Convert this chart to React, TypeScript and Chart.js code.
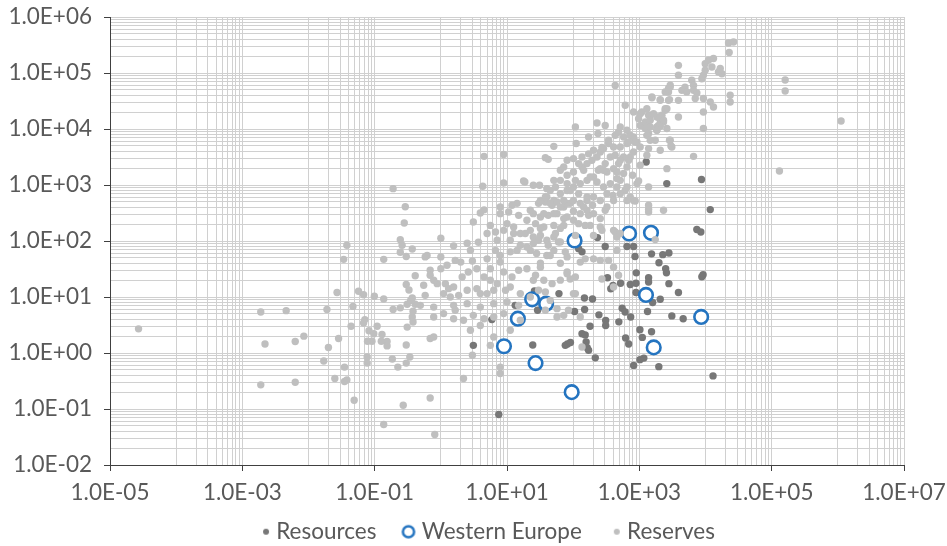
import React, { useEffect, useRef } from "react";
import { Chart, registerables } from "chart.js";

Chart.register(...registerables);

// ---- data (x, y) ----
const seriesNames = ["Resources", "Western Europe", "Reserves"];

const xMajorTicks = [1e-5, 1e-3, 1e-1, 1e1, 1e3, 1e5, 1e7];
const yMajorTicks = [1e-2, 1e-1, 1, 1e1, 1e2, 1e3, 1e4, 1e5, 1e6];

const resources: [number, number][] = [
  [233, 115], [305, 80], [136, 64], [121, 73], [650, 80], [820, 80], [860, 53], [1530, 59], [2260, 57], [2800, 61],
  [1980, 41], [2500, 32], [2570, 27], [9200, 25], [8800, 23], [1380, 22], [1380, 18.5], [900, 27], [330, 22], [400, 16],
  [370, 14], [520, 17.6], [730, 16.7], [890, 17.6], [2800, 17.3], [3900, 12], [890, 12], [61, 11.5], [148, 9.6], [196, 9.2],
  [1590, 8.0], [2070, 9.1], [26, 12.8], [29, 5.8], [105, 5.5], [149, 6.0], [245, 4.8], [310, 3.8], [310, 3.1], [490, 3.6],
  [550, 6.3], [610, 5.4], [740, 4.4], [1330, 5.5], [3100, 4.6], [4600, 4.1], [180, 3.0], [136, 2.2], [152, 2.1], [82, 1.45],
  [76, 1.37], [91, 1.54], [157, 1.58], [163, 1.24], [171, 1.12], [216, 0.82], [620, 1.85], [690, 1.45], [1020, 2.6], [1110, 1.9],
  [1530, 2.4], [1170, 0.81], [1020, 0.76], [820, 0.6], [1970, 0.57], [13000, 0.39], [24.5, 1.39], [3.1, 1.37], [7.5, 0.08], [5.9, 3.95],
  [1270, 2570], [2600, 1060], [8700, 1250], [11800, 364], [7400, 160], [8500, 145], [13.3, 7.1],
];

const westernEurope: [number, number][] = [
  [105, 102], [700, 136], [1500, 140], [24, 9.1], [39, 7.6], [14.6, 4.1], [1260, 10.9], [8600, 4.4], [9.0, 1.32], [27, 0.66],
  [1650, 1.26], [95, 0.2],
];

const reserves: [number, number][] = [
  // left part
  [2.7e-5, 2.7], [1.9e-3, 5.4], [4.6e-3, 5.7], [2.2e-3, 1.45], [6.3e-3, 1.6], [8.5e-3, 2.0], [1.9e-3, 0.27], [6.3e-3, 0.3],
  [3.8e-2, 84], [3.4e-2, 47], [2.7e-2, 12], [1.9e-2, 6.0], [4.7e-2, 6.8], [5.7e-2, 12.7], [6.8e-2, 11], [9.9e-2, 10.3],
  [0.137, 9.2], [0.137, 47], [0.244, 105], [0.26, 84], [0.244, 63], [0.3, 53], [0.37, 72], [0.41, 24], [0.3, 16.7], [0.33, 13.3],
  [0.37, 9.6], [0.31, 7.4], [0.41, 7.4], [0.244, 6.4], [0.19, 6.0], [0.38, 5.55], [0.37, 4.4], [0.38, 3.57],
  [7.1e-2, 3.95], [6.8e-2, 3.43], [4.4e-2, 3.0], [8.2e-2, 2.5], [0.109, 3.0], [9.7e-2, 2.2], [0.129, 2.14],
  [7.8e-2, 1.62], [9.1e-2, 1.62], [0.126, 1.62], [0.154, 1.6], [0.154, 1.34], [0.3, 1.39], [2.85e-2, 1.81], [2.0e-2, 1.25],
  [1.7e-2, 0.72], [3.5e-2, 0.56], [7.7e-2, 0.85], [7.7e-2, 0.66], [0.185, 0.78], [0.224, 0.56], [0.34, 0.85], [0.3, 0.66],
  [2.5e-2, 0.35], [3.5e-2, 0.31], [3.8e-2, 0.33], [4.9e-2, 0.143], [0.27, 0.117], [0.137, 0.053], [0.19, 860], [0.29, 408], [0.28, 210],
  [0.81, 0.035], [0.69, 0.157], [2.2, 0.35], [7.9, 0.56], [7.9, 0.43], [3.0, 0.91], [5.6, 1.37], [6.3, 1.93], [0.69, 1.81], [0.78, 1.93], [0.31, 2.9],
  // central part
  [4.3, 950], [8.9, 1090], [18.6, 1130], [4.5, 3250], [8.9, 3500], [14.2, 470], [11.9, 435], [3.95, 316], [4.5, 360], [3.1, 218],
  [7.9, 405], [7.9, 308], [10.6, 329], [10, 204], [12.6, 178], [8.9, 155], [25, 308], [20, 234], [15.9, 136], [18.9, 136], [22.5, 155], [25, 118],
  [5.0, 136], [6.7, 145], [7.1, 103], [1.0, 112], [1.56, 82], [2.5, 91], [3.7, 95], [0.58, 52], [1.0, 52], [2.0, 42], [3.0, 44], [5.0, 48], [7.9, 55],
  [11.2, 64], [14.2, 68], [20, 78], [25, 90], [1.24, 37], [0.69, 30], [0.55, 16.2], [0.88, 17.3], [1.31, 14.1], [1.56, 15.1], [2.1, 22.7], [2.6, 28],
  [3.5, 32], [4.5, 22.7], [5.6, 19.9], [7.1, 17.3], [8.9, 28], [11.9, 22.7], [15, 30], [20, 32], [7.9, 42], [5.6, 32], [1.1, 11.5], [1.39, 10],
  [2.5, 13.2], [3.95, 11.5], [6.3, 13.2], [11.2, 15.1], [15.9, 11.5], [25, 19.9], [22.5, 10], [0.35, 8.7], [0.49, 7.1], [0.78, 6.6], [1.56, 7.1],
  [2.5, 7.6], [3.95, 6.6], [6.3, 7.6], [10, 8.15], [15, 7.1], [0.78, 4.4], [1.1, 5.05], [1.56, 4.1], [2.2, 3.84], [3.1, 4.7], [4.5, 4.1], [6.3, 4.4], [8.9, 5.05],
  [0.69, 24.4], [0.78, 19.9], [1.17, 17.3], [1.86, 10.7], [3.5, 14.1], [5.0, 11.5], [0.62, 55],
  [12.6, 136], [32, 126], [40, 103], [51, 118], [64, 96], [40, 55], [51, 68], [76, 64], [32, 40], [64, 40], [81, 26], [108, 22.7], [36, 19.9], [48, 17.3],
  [128, 4.4], [136, 1.28], [108, 11.5], [257, 45], [408, 34], [458, 68], [203, 48], [485, 24.4], [30, 13.2], [38, 12.3], [45, 8.7], [57, 6.2], [72, 4.7],
  [57, 4.4], [85, 5.8], [101, 11.5], [22.5, 68], [28, 60], [45, 55], [81, 52], [32, 34], [27, 24.4], [81, 28], [90, 21], [128, 42], [152, 48], [343, 45],
  [272, 21], [408, 15.1], [432, 145], [458, 118], [1380, 368], [2320, 353], [1740, 106], [30, 103], [54, 136], [60, 96],
  [30, 470], [38, 497], [48, 435], [57, 497], [72, 405], [90, 470], [32, 268], [42, 287], [57, 308], [72, 251], [27, 204], [36, 178], [51, 190], [72, 190],
  [101, 234], [121, 204], [171, 287], [181, 190], [257, 251], [272, 155], [203, 126],
  [5.6, 190], [11.2, 103], [15.9, 84], [32, 168], [42, 84], [64, 168], [108, 126], [152, 190], [196, 435], [305, 353],
  [400, 650], [610, 800], [790, 1490], [1030, 2250], [690, 2760], [432, 7700], [305, 11600], [1030, 11600], [1740, 6300], [2070, 4170],
  [240, 1830], [108, 1210], [64, 1830], [45, 800], [22.5, 353], [15, 287], [6.7, 68], [2.8, 68], [1.65, 45], [1.0, 32],
  [0.58, 10.7], [1.65, 5.8], [2.8, 2.55], [3.95, 3.1], [15.9, 3.84], [11.2, 2.55], [9.5, 13.2], [38, 5.8], [64, 20],
  // upper cluster
  [31, 990], [40, 860], [54, 920], [64, 1210], [81, 1490], [101, 1710], [136, 2100], [162, 2410], [192, 2760], [229, 3160], [257, 3880], [288, 4470],
  [203, 4170], [171, 3600], [343, 5500], [408, 4770], [364, 3160], [305, 2410], [257, 1960], [324, 1710], [408, 1960], [485, 2410], [578, 3160],
  [729, 3160], [818, 3880], [515, 4770], [650, 5500], [729, 7700], [818, 7200], [920, 5860], [1030, 4770], [515, 10900], [650, 9500],
  [64, 700], [81, 800], [101, 920], [128, 1060], [162, 1210], [203, 1390], [229, 1130], [288, 920], [324, 700], [257, 530], [203, 611], [162, 530],
  [128, 470], [101, 530], [81, 470], [64, 405], [51, 530], [40, 611], [32, 530], [36, 308], [51, 308], [81, 268], [101, 339], [128, 308], [162, 353],
  [203, 308], [324, 405], [408, 530], [458, 920], [515, 1210], [578, 1600], [650, 920], [729, 611], [818, 530], [920, 1060], [257, 178], [408, 155], [515, 136],
  [432, 60000], [229, 12800], [612, 26500], [108, 10900], [51, 4900], [38, 3080], [42, 2870], [17.8, 1180], [72, 2100], [81, 2760], [101, 2960],
  [171, 7200], [237, 8300], [111, 5500], [343, 6300], [272, 4700], [485, 8840], [578, 7200], [867, 5860], [687, 5860],
  [818, 20100], [1090, 20100], [1380, 17600], [1230, 13300], [975, 15300], [1550, 37300], [2070, 32500], [2760, 45800], [2930, 60400],
  [2610, 23100], [2070, 14300], [1840, 10900], [1380, 8300], [2610, 10200], [1380, 4470], [1300, 3390], [2610, 1960],
  [432, 3390], [515, 2760], [650, 2100], [458, 1710], [288, 1830], [136, 3160], [121, 2410], [144, 1830], [181, 1390], [364, 1060], [458, 1300],
  [51, 1210], [81, 1060], [90, 800], [121, 700], [162, 611], [25, 990], [38, 611], [45, 470], [72, 530], [144, 405], [515, 700], [650, 530],
  [1300, 11600], [1230, 10200], [1300, 7700], [1460, 6300], [2860, 6300], [3000, 4970], [6600, 3250], [1380, 920], [1380, 435], [1380, 329],
  [975, 1180], [867, 518], [1030, 18800], [1460, 17600], [1300, 23100], [2070, 33500], [2860, 33500], [2460, 21600], [1950, 16400], [2320, 13300],
  [1950, 11600], [1840, 9500],
  // top right
  [22300, 343000], [26500, 357000], [22800, 232000], [3900, 137000], [3900, 91000], [9900, 147000], [11100, 169000], [13200, 181000],
  [12500, 128000], [9900, 112000], [16700, 120000], [17700, 97000], [8800, 79000], [6200, 74000], [6600, 60000], [4900, 56000], [4400, 49000],
  [5200, 46000], [6600, 49000], [7400, 44000], [7000, 35000], [2930, 56000], [2460, 46000], [2760, 32500], [1550, 36000], [3900, 32500],
  [9300, 35000], [11800, 30300], [13200, 24700], [9300, 20100], [9300, 10200], [23600, 40000], [23600, 30300], [2460, 23100], [2200, 17600],
  [1840, 16400], [1640, 18800], [1460, 14300], [2320, 14300], [2070, 11200], [1840, 9500], [3900, 16400], [1460, 10900], [2930, 6300], [3100, 4770],
  [160000, 75000], [160000, 47700], [1.12e6, 13900], [131000, 1780], [2760, 53000], [15700, 104000], [9300, 91000],
];

// ---- styling ----
const FONT = "Lato, 'DejaVu Sans', sans-serif";
const FONT_SIZE = 22.5;
const TEXT_COLOR = "#595959";
const GRID_COLOR = "#D0D0D0";
const AXIS_COLOR = "#404040";
const RES_COLOR = "#777777";
const WE_COLOR = "#2474C0";
const RESV_COLOR = "#BFBFBF";

function formatSci(v: number): string {
  const e = Math.round(Math.log10(v));
  const sign = e < 0 ? "-" : "+";
  return "1.0E" + sign + String(Math.abs(e)).padStart(2, "0");
}

function isMajor(v: number, majors: number[]): boolean {
  const lv = Math.log10(v);
  return majors.some((m) => Math.abs(Math.log10(m) - lv) < 1e-6);
}

// grid positions: x axis uses base-100 majors with linear minors; y axis standard decades
function buildXGrid(): number[] {
  const out: number[] = [];
  for (let i = 0; i < xMajorTicks.length; i++) {
    const a = xMajorTicks[i];
    out.push(a);
    if (i < xMajorTicks.length - 1) {
      for (let k = 1; k <= 9; k++) out.push(k * a * 10);
    }
  }
  return out;
}
function buildYGrid(): number[] {
  const out: number[] = [];
  for (let i = 0; i < yMajorTicks.length; i++) {
    const a = yMajorTicks[i];
    out.push(a);
    if (i < yMajorTicks.length - 1) {
      for (let k = 2; k <= 9; k++) out.push(k * a);
    }
  }
  return out;
}

// legend marker canvases; the mark sits right of the canvas centre so it lands just before the text
const LEGEND_BOX = 30;
const LEGEND_SHIFT_X = 23;
const LEGEND_SHIFT_Y = 7;
function makeMarker(kind: "dot" | "ring", color: string): HTMLCanvasElement {
  const c = document.createElement("canvas");
  const offset = LEGEND_BOX / 2 + (kind === "ring" ? -2 : 1);
  const half = offset + 9;
  c.width = half * 2;
  c.height = 18;
  const g = c.getContext("2d")!;
  const cx = half + offset;
  const cy = 9;
  g.beginPath();
  if (kind === "ring") {
    g.arc(cx, cy, 5.6, 0, Math.PI * 2);
    g.fillStyle = "#ffffff";
    g.fill();
    g.lineWidth = 2.5;
    g.strokeStyle = color;
    g.stroke();
  } else {
    g.arc(cx, cy, 3, 0, Math.PI * 2);
    g.fillStyle = color;
    g.fill();
  }
  return c;
}

const shiftLegendPlugin = {
  id: "shiftLegend",
  afterLayout(chart: any) {
    const lg = chart.legend;
    if (lg) {
      lg.left += LEGEND_SHIFT_X;
      lg.right += LEGEND_SHIFT_X;
      lg.top += LEGEND_SHIFT_Y;
      lg.bottom += LEGEND_SHIFT_Y;
    }
  },
};

export default function App() {
  const canvasRef = useRef<HTMLCanvasElement | null>(null);

  useEffect(() => {
    if (!canvasRef.current) return;
    const xGrid = buildXGrid();
    const yGrid = buildYGrid();
    const markers = [
      makeMarker("dot", RES_COLOR),
      makeMarker("ring", WE_COLOR),
      makeMarker("dot", RESV_COLOR),
    ];
    const toPts = (arr: [number, number][]) => arr.map(([x, y]) => ({ x, y }));

    const chart = new Chart(canvasRef.current, {
      type: "scatter",
      data: {
        datasets: [
          {
            label: seriesNames[0],
            data: toPts(resources),
            backgroundColor: RES_COLOR,
            borderWidth: 0,
            pointRadius: 3.7,
            order: 2,
          },
          {
            label: seriesNames[1],
            data: toPts(westernEurope),
            backgroundColor: "#ffffff",
            borderColor: WE_COLOR,
            borderWidth: 2.6,
            pointRadius: 6.8,
            order: 1,
          },
          {
            label: seriesNames[2],
            data: toPts(reserves),
            backgroundColor: RESV_COLOR,
            borderWidth: 0,
            pointRadius: 3.7,
            order: 0,
          },
        ],
      },
      plugins: [shiftLegendPlugin],
      options: {
        animation: false,
        responsive: false,
        devicePixelRatio: 1,
        layout: { padding: { left: 0, right: 43, top: 17, bottom: 0 } },
        scales: {
          x: {
            type: "logarithmic",
            min: 1e-5,
            max: 1e7,
            afterBuildTicks: (axis: any) => {
              axis.ticks = xGrid.map((v) => ({ value: v }));
            },
            afterFit: (axis: any) => {
              axis.height = 44.5;
              axis.paddingLeft = 0;
              axis.paddingRight = 0;
            },
            ticks: {
              autoSkip: false,
              maxRotation: 0,
              minRotation: 0,
              padding: 8,
              color: TEXT_COLOR,
              font: { family: FONT, size: FONT_SIZE },
              callback: (v: any) => (isMajor(Number(v), xMajorTicks) ? formatSci(Number(v)) : ""),
            },
            grid: {
              color: GRID_COLOR,
              lineWidth: 1,
              tickLength: 6,
              tickColor: (ctx: any) =>
                ctx.tick && isMajor(ctx.tick.value, xMajorTicks) ? AXIS_COLOR : "rgba(0,0,0,0)",
            },
            border: { display: true, color: AXIS_COLOR, width: 1 },
          },
          y: {
            type: "logarithmic",
            min: 1e-2,
            max: 1e6,
            afterBuildTicks: (axis: any) => {
              axis.ticks = yGrid.map((v) => ({ value: v }));
            },
            afterFit: (axis: any) => {
              axis.width = 110;
              axis.paddingTop = 0;
              axis.paddingBottom = 0;
            },
            ticks: {
              autoSkip: false,
              padding: 12,
              color: TEXT_COLOR,
              font: { family: FONT, size: FONT_SIZE },
              callback: (v: any) => (isMajor(Number(v), yMajorTicks) ? formatSci(Number(v)) : ""),
            },
            grid: {
              color: GRID_COLOR,
              lineWidth: 1,
              tickLength: 6,
              tickColor: (ctx: any) =>
                ctx.tick && isMajor(ctx.tick.value, yMajorTicks) ? AXIS_COLOR : "rgba(0,0,0,0)",
            },
            border: { display: true, color: AXIS_COLOR, width: 1 },
          },
        },
        plugins: {
          tooltip: { enabled: false },
          legend: {
            display: true,
            position: "bottom",
            labels: {
              usePointStyle: true,
              pointStyleWidth: LEGEND_BOX,
              boxWidth: LEGEND_BOX,
              boxHeight: 20,
              padding: 4,
              color: TEXT_COLOR,
              font: { family: FONT, size: FONT_SIZE },
              generateLabels: () =>
                seriesNames.map((name, i) => ({
                  text: name,
                  pointStyle: markers[i] as any,
                  fillStyle: "rgba(0,0,0,0)",
                  strokeStyle: "rgba(0,0,0,0)",
                  lineWidth: 0,
                  hidden: false,
                  datasetIndex: i,
                  fontColor: TEXT_COLOR,
                })),
            },
          },
        },
      },
    } as any);

    return () => chart.destroy();
  }, []);

  return (
    <div style={{ position: "absolute", left: 0, top: 0, width: 947, height: 546, background: "#ffffff" }}>
      <canvas ref={canvasRef} width={947} height={546} />
    </div>
  );
}
